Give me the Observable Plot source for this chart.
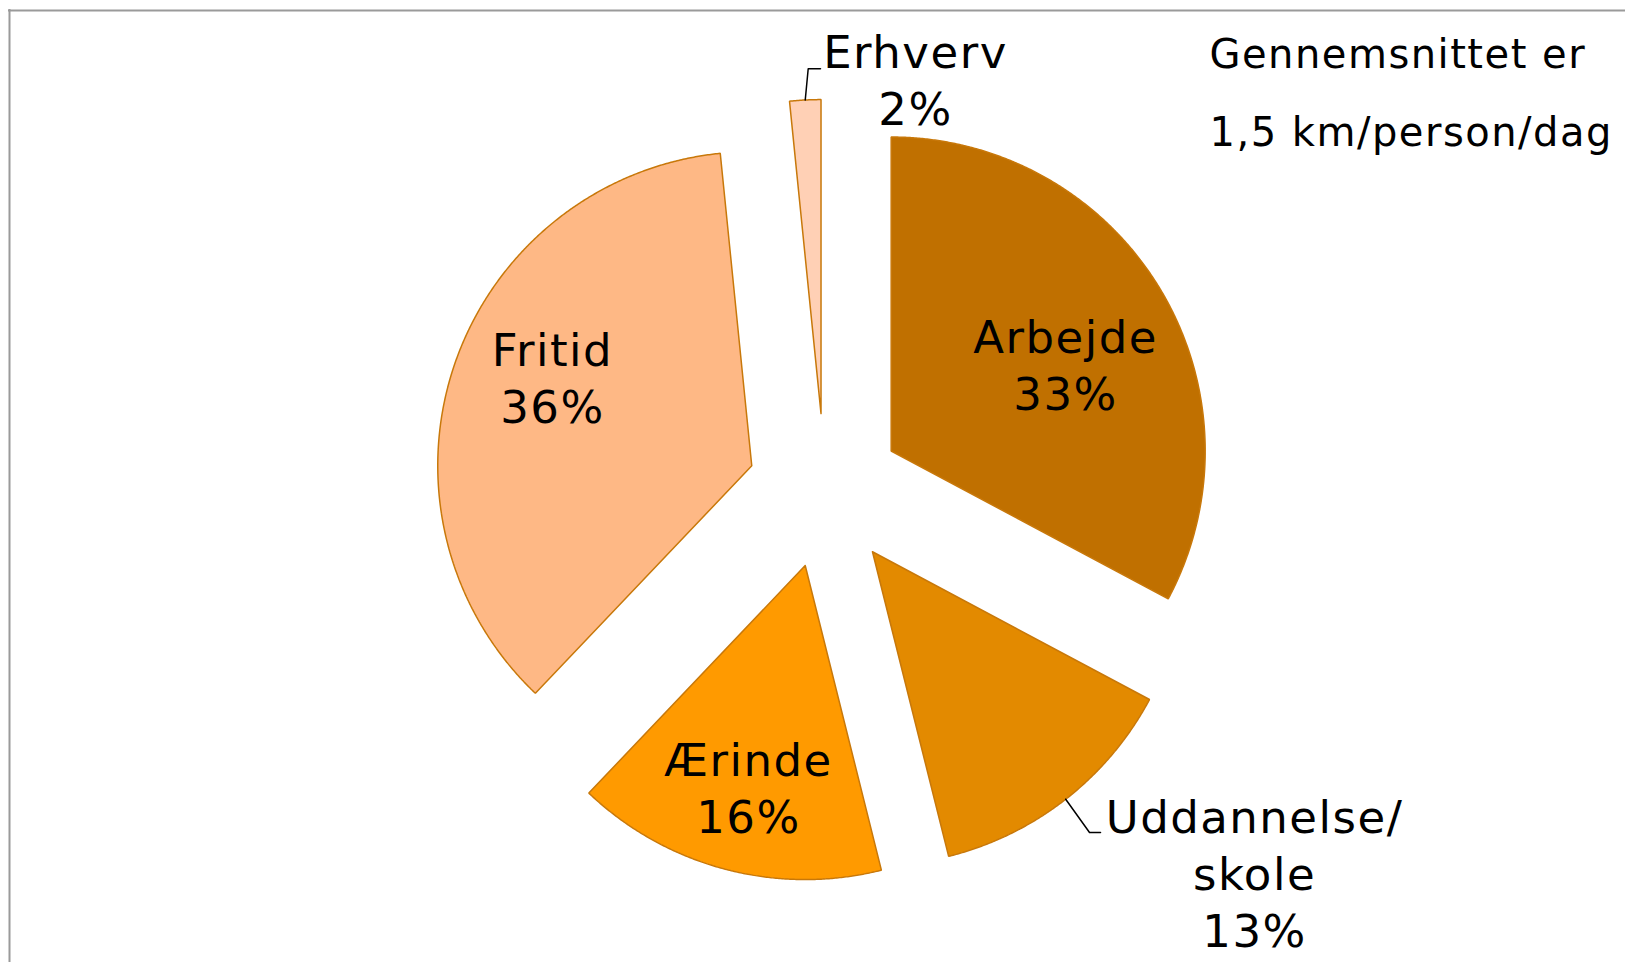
<!DOCTYPE html>
<html>
<head>
<meta charset="utf-8">
<script src="https://cdn.jsdelivr.net/npm/d3@7"></script>
<script src="https://cdn.jsdelivr.net/npm/@observablehq/plot@0.6"></script>
<style>
html, body { margin: 0; padding: 0; background: #fff; overflow: hidden; }
</style>
</head>
<body>
<div id="chart"></div>
<script>
// ---- data ----
const categories = ["Arbejde", "Uddannelse/\nskole", "Ærinde", "Fritid", "Erhverv"];
const shares = [32.8, 13.3, 16.0, 36.3, 1.6];
const annotationLines = ["Gennemsnittet er", "1,5 km/person/dag"];

// ---- styling / layout ----
const colors = ["#C07000", "#E38A00", "#FF9A00", "#FEB885", "#FFD0B5"];
const outline = "#C8780A";
const W = 1625, H = 962;
const center = [824.4, 490.3], R = 314, explode = 77.3;
// label position: distance k*R from the exploded apex, at bisector angle + dA (deg)
const labelLayout = [
  {k: 0.615, dA: 5.5},
  {k: 1.597, dA: -11.65, leader: [[-165, -44], [-154, -44]]},
  {k: 0.742, dA: -0.67},
  {k: 0.689, dA: 4.0},
  {k: 1.095, dA: 18.83, leader: [[-107.3, -14.2], [-95, -14.2]]}
];

const data = categories.map((c, i) => ({category: c, value: shares[i]}));
const total = d3.sum(shares);
const arcs = d3.pie().sort(null).value(d => d.value)(data);

const slices = [];
const labels = [];
const leaders = [];
arcs.forEach((p, i) => {
  const mid = (p.startAngle + p.endAngle) / 2;
  const ax = center[0] + explode * Math.sin(mid);
  const ay = center[1] - explode * Math.cos(mid);
  const pts = [{x: ax, y: ay}];
  const n = Math.max(2, Math.ceil((p.endAngle - p.startAngle) / 0.005));
  for (let j = 0; j <= n; j++) {
    const a = p.startAngle + (p.endAngle - p.startAngle) * j / n;
    pts.push({x: ax + R * Math.sin(a), y: ay - R * Math.cos(a)});
  }
  pts.push({x: ax, y: ay});
  slices.push({pts, color: colors[i]});

  const L = labelLayout[i];
  const la = mid + L.dA * Math.PI / 180;
  const lx = ax + L.k * R * Math.sin(la);
  const ly = ay - L.k * R * Math.cos(la);
  const pct = Math.round(p.data.value / total * 100);
  labels.push({x: lx, y: ly, text: p.data.category + "\n" + pct + "%"});

  if (L.leader) {
    const sx = ax + R * Math.sin(mid), sy = ay - R * Math.cos(mid);
    leaders.push([
      {x: sx, y: sy},
      {x: lx + L.leader[0][0], y: ly + L.leader[0][1]},
      {x: lx + L.leader[1][0], y: ly + L.leader[1][1]}
    ]);
  }
});

const marks = [
  Plot.ruleY([10], {x1: 8, x2: W, stroke: "#9a9a9a", strokeWidth: 2}),
  Plot.ruleX([9], {y1: 9, y2: H, stroke: "#9a9a9a", strokeWidth: 2}),
  ...slices.map(s => Plot.line(s.pts, {x: "x", y: "y", fill: s.color, stroke: outline, strokeWidth: 1.5, strokeLinejoin: "miter"})),
  ...leaders.map(l => Plot.line(l, {x: "x", y: "y", stroke: "#000", strokeWidth: 1.5})),
  Plot.text(labels, {x: "x", y: "y", dy: -5, text: "text", fontSize: 45, lineHeight: 1.267, lineAnchor: "middle", textAnchor: "middle", fill: "#000", fontFamily: "DejaVu Sans"}),
  Plot.text([annotationLines.join("\n")], {x: 1209, y: 82, text: d => d, fontSize: 40, lineHeight: 1.95, lineAnchor: "middle", textAnchor: "start", fill: "#000", fontFamily: "DejaVu Sans"})
];

const chart = Plot.plot({
  width: W,
  height: H,
  margin: 0,
  x: {domain: [0, W], range: [0, W], axis: null},
  y: {domain: [0, H], range: [0, H], axis: null},
  style: "font-family: 'DejaVu Sans'; letter-spacing: 1.5px; background: white; max-width: none;",
  marks
});
document.getElementById("chart").appendChild(chart);
</script>
</body>
</html>
